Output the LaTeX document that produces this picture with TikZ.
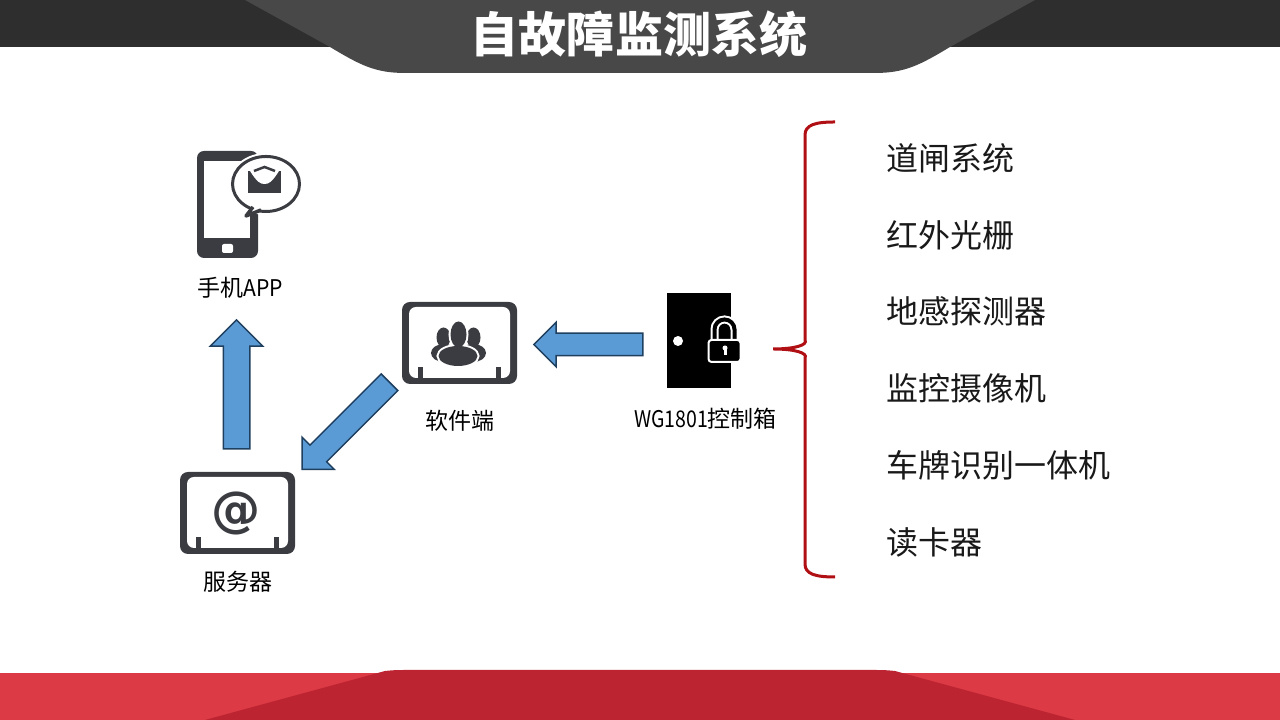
\documentclass[tikz,border=0pt]{standalone}
\usepackage{fontspec}
\setmainfont{Noto Sans CJK SC}
\newfontfamily\iconfont{DejaVu Sans}
\usepackage{tikz}
\usetikzlibrary{calc,shapes.arrows}
\definecolor{headdark}{HTML}{2E2E2E}
\definecolor{headmid}{HTML}{484848}
\definecolor{footlight}{HTML}{DC3A45}
\definecolor{footdark}{HTML}{BD2431}
\definecolor{icondark}{HTML}{3A3C42}
\definecolor{arrowblue}{HTML}{5B9BD5}
\definecolor{arrowline}{HTML}{1F3F5F}
\definecolor{bracered}{HTML}{B00F14}
\def\fs#1{\fontsize{#1}{#1}\selectfont}
\def\narrow#1#2{\scalebox{#1}[1]{#2}}
\def\screenframe(#1,#2){
	\fill[icondark, rounded corners=0.08cm] (#1,#2) rectangle ++(1.15,-0.82);
	\fill[white, rounded corners=0.07cm] ($(#1,#2)+(0.07,-0.05)$) rectangle ++(1.01,-0.71);
	\fill[icondark] ($(#1,#2)+(0.16,-0.65)$) rectangle ++(0.05,-0.11);
	\fill[icondark] ($(#1,#2)+(0.94,-0.65)$) rectangle ++(0.05,-0.11);
}
\tikzset{
	blockarrow/.style={single arrow, draw=arrowline, fill=arrowblue, line width=0.15mm, inner xsep=0pt},
	iconlabel/.style={text=black, inner sep=0pt, font=\fs{6.54}},
	listitem/.style={anchor=west, text=black!90, inner sep=0pt, font=\fs{9.1}},
}

\begin{document}
\begin{tikzpicture}
	%%%%% FRAME %%%%%
	\useasboundingbox (0, 0) rectangle (12.8, 7.2);

	\fill[headdark] (0, 7.2) rectangle (12.8, 6.73);
	\fill[headmid] (2.45, 7.2) -- (3.3, 6.73) .. controls (3.6, 6.55) and (3.75, 6.47) .. (4.05, 6.47) -- (8.75, 6.47) .. controls (9.05, 6.47) and (9.2, 6.55) .. (9.5, 6.73) -- (10.35, 7.2) -- cycle;
	\node[text=white, inner sep=0pt, font=\fs{13.66}\bfseries] (title) at (6.39, 6.86) {自故障监测系统};

	\fill[footlight] (0, 0) rectangle (12.8, 0.47);
	\fill[footdark] (2.05, 0) -- (3.85, 0.49) .. controls (3.95, 0.5) .. (4.1, 0.5) -- (8.7, 0.5) .. controls (8.85, 0.5) .. (8.95, 0.49) -- (10.75, 0) -- cycle;

	%%%%% PHONE %%%%%
	\fill[icondark, rounded corners=0.07cm] (1.97, 5.69) rectangle (2.58, 4.62);
	\fill[white] (2.04, 5.59) rectangle (2.50, 4.82);
	\fill[white, rounded corners=0.02cm] (2.22, 4.76) rectangle (2.33, 4.67);

	\draw[white, line width=0.7mm] (2.66, 5.36) ellipse (0.335 and 0.275);
	\draw[icondark, fill=white, line width=0.3mm] (2.66, 5.36) ellipse (0.335 and 0.275);
	\fill[white] (2.54, 5.14) -- (2.47, 5.05) -- (2.61, 5.11) -- (2.62, 5.15) -- cycle;
	\draw[icondark, line width=0.35mm, line join=round] (2.53, 5.13) -- (2.46, 5.04) -- (2.61, 5.10);

	\fill[icondark] (2.48, 5.27) rectangle (2.81, 5.49);
	\fill[white] (2.50, 5.49) .. controls (2.57, 5.38) and (2.60, 5.36) .. (2.645, 5.36) .. controls (2.69, 5.36) and (2.72, 5.38) .. (2.79, 5.49) -- cycle;
	\draw[icondark, line width=0.25mm] (2.54, 5.49) -- (2.645, 5.53) -- (2.75, 5.49);

	\node[iconlabel] (phonelabel) at (2.405, 4.32) {手机\narrow{0.92}{APP}};

	%%%%% SOFTWARE %%%%%
	\screenframe(4.02,4.18)

	\fill[icondark] (4.44, 3.67) ellipse (0.13 and 0.09);
	\fill[icondark] (4.73, 3.67) ellipse (0.13 and 0.09);
	\fill[icondark] (4.435, 3.825) ellipse (0.07 and 0.10);
	\fill[icondark] (4.735, 3.825) ellipse (0.07 and 0.10);
	\draw[white, line width=0.4mm] (4.585, 3.855) ellipse (0.08 and 0.13);
	\draw[white, line width=0.4mm] (4.58, 3.64) ellipse (0.195 and 0.10);
	\fill[icondark] (4.585, 3.855) ellipse (0.08 and 0.13);
	\fill[icondark] (4.58, 3.64) ellipse (0.195 and 0.10);

	\node[iconlabel] (softlabel) at (4.60, 2.99) {软件端};

	%%%%% SERVER %%%%%
	\screenframe(1.80,2.48)
	\node[text=icondark, inner sep=0pt, font=\fs{14}\iconfont\bfseries] (atsign) at (2.365, 2.07) {@};
	\node[iconlabel] (serverlabel) at (2.38, 1.38) {服务器};

	%%%%% DOOR %%%%%
	\fill[black] (6.67, 4.27) rectangle (7.31, 3.32);
	\fill[white] (6.78, 3.79) circle (0.05);

	\draw[white, line width=0.8mm] (7.145, 3.75) -- (7.145, 3.905) arc (180:0:0.10) -- (7.345, 3.75);
	\draw[black, line width=0.4mm] (7.145, 3.75) -- (7.145, 3.905) arc (180:0:0.10) -- (7.345, 3.75);
	\draw[white, fill=black, line width=0.2mm, rounded corners=0.03cm] (7.085, 3.80) rectangle (7.405, 3.58);
	\fill[white] (7.25, 3.72) circle (0.025);
	\fill[white] (7.235, 3.72) rectangle (7.265, 3.65);

	\node[iconlabel] (boxlabel) at (7.055, 3.01) {\narrow{0.85}{WG1801}控制箱};

	%%%%% ARROWS %%%%%
	\node[blockarrow, rotate=180, minimum height=1.09cm, inner ysep=0.105cm, single arrow head extend=0.11cm] (boxtosoft) at (5.94, 3.755) {};
	\node[blockarrow, rotate=225, minimum height=1.234cm, inner ysep=0.11cm, single arrow head extend=0.11cm] (softtoserver) at (3.50, 2.983) {};
	\node[blockarrow, rotate=90, minimum height=1.29cm, inner ysep=0.125cm, single arrow head extend=0.13cm] (servertophone) at (2.365, 3.29) {};

	%%%%% BRACE %%%%%
	\draw[bracered, line width=0.3mm] (8.35, 5.98) .. controls (8.15, 5.98) and (8.05, 5.95) .. (8.05, 5.85) -- (8.05, 3.80) .. controls (8.08, 3.75) and (7.95, 3.71) .. (7.73, 3.71) .. controls (7.95, 3.71) and (8.08, 3.67) .. (8.05, 3.62) -- (8.05, 1.56) .. controls (8.05, 1.46) and (8.15, 1.43) .. (8.35, 1.43);

	\node[listitem] (gate) at (8.86, 5.62) {道闸系统};
	\node[listitem] (grating) at (8.86, 4.85) {红外光栅};
	\node[listitem] (loop) at (8.86, 4.09) {地感探测器};
	\node[listitem] (camera) at (8.86, 3.32) {监控摄像机};
	\node[listitem] (plate) at (8.86, 2.55) {车牌识别一体机};
	\node[listitem] (reader) at (8.86, 1.78) {读卡器};
\end{tikzpicture}
\end{document}
